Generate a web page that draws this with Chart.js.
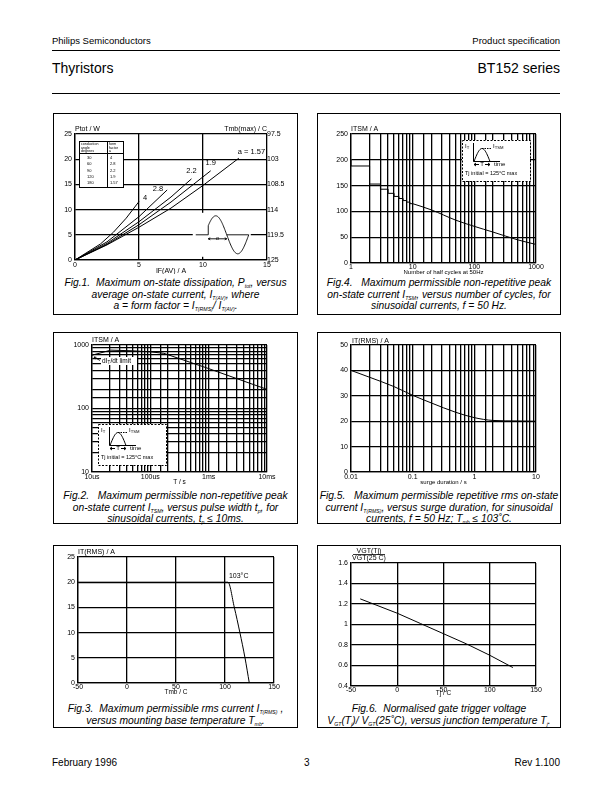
<!DOCTYPE html>
<html>
<head>
<meta charset="utf-8">
<script src="https://cdn.jsdelivr.net/npm/chart.js@4.4.1/dist/chart.umd.min.js"></script>
<style>
  body { margin: 0; background: #fff; }
  #page { position: relative; width: 612px; height: 792px; font-family: "Liberation Sans", Arial, sans-serif; color: #000; overflow: hidden; }
  .t { position: absolute; white-space: nowrap; line-height: 1; transform: translateY(-50%); }
  .hr { position: absolute; left: 52px; width: 508px; height: 0; border-top: 1px solid #000; }
  .box { position: absolute; border: 1px solid #000; box-sizing: border-box; }
  canvas { position: absolute; }
  .cap { position: absolute; font-style: italic; font-size: 10.3px; line-height: 11.7px; text-align: center; white-space: nowrap; }
  .cap sub { font-size: 5.2px; vertical-align: -1.5px; line-height: 0; }
</style>
</head>
<body>
<div id="page">
  <div class="t" style="left:52px;top:41px;font-size:9.5px">Philips Semiconductors</div>
  <div class="t" style="right:52px;top:41px;font-size:9.5px">Product specification</div>
  <div class="hr" style="top:50px"></div>
  <div class="t" style="left:52px;top:68px;font-size:14px">Thyristors</div>
  <div class="t" style="right:52px;top:68px;font-size:14px">BT152 series</div>
  <div class="hr" style="top:93px"></div>

  <div class="box" style="left:53px;top:113px;width:245px;height:202px"></div>
  <div class="box" style="left:317px;top:113px;width:244px;height:202px"></div>
  <div class="box" style="left:53px;top:332px;width:245px;height:192px"></div>
  <div class="box" style="left:317px;top:332px;width:244px;height:192px"></div>
  <div class="box" style="left:53px;top:545px;width:245px;height:183px"></div>
  <div class="box" style="left:317px;top:545px;width:244px;height:183px"></div>

  <canvas id="fig1"></canvas>
  <canvas id="fig4"></canvas>
  <canvas id="fig2"></canvas>
  <canvas id="fig5"></canvas>
  <canvas id="fig3"></canvas>
  <canvas id="fig6"></canvas>

  <div class="cap" style="left:53px;width:245px;top:277px">Fig.1.&nbsp; Maximum on-state dissipation, P<sub>tot</sub>, versus<br>average on-state current, I<sub>T(AV)</sub>, where<br>a = form factor = I<sub>T(RMS)</sub>/ I<sub>T(AV)</sub>.</div>
  <div class="cap" style="left:317px;width:244px;top:277px">Fig.4.&nbsp;&nbsp; Maximum permissible non-repetitive peak<br>on-state current I<sub>TSM</sub>, versus number of cycles, for<br>sinusoidal currents, f = 50 Hz.</div>
  <div class="cap" style="left:53px;width:245px;top:490px">Fig.2.&nbsp;&nbsp; Maximum permissible non-repetitive peak<br>on-state current I<sub>TSM</sub>, versus pulse width t<sub>p</sub>, for<br>sinusoidal currents, t<sub>p</sub> ≤ 10ms.</div>
  <div class="cap" style="left:317px;width:244px;top:490px">Fig.5.&nbsp;&nbsp; Maximum permissible repetitive rms on-state<br>current I<sub>T(RMS)</sub>, versus surge duration, for sinusoidal<br>currents, f = 50 Hz; T<sub>mb</sub> ≤ 103˚C.</div>
  <div class="cap" style="left:53px;width:245px;top:703px">Fig.3.&nbsp; Maximum permissible rms current I<sub>T(RMS)</sub> ,<br>versus mounting base temperature T<sub>mb</sub>.</div>
  <div class="cap" style="left:317px;width:244px;top:703px">Fig.6.&nbsp; Normalised gate trigger voltage<br>V<sub>GT</sub>(T<sub>j</sub>)/ V<sub>GT</sub>(25˚C), versus junction temperature T<sub>j</sub>.</div>

  <div class="t" style="left:52px;top:763px;font-size:10px">February 1996</div>
  <div class="t" style="left:304px;top:763px;font-size:10px">3</div>
  <div class="t" style="right:52px;top:763px;font-size:10px">Rev 1.100</div>
</div>

<script>
// Fig.1 - Ptot vs IF(AV), one curve per form factor
const conductionAngles = [30, 60, 90, 120, 180];
const formFactors = ['4', '2.8', '2.2', '1.9', '1.57'];
const ifavA4 = [0, 2, 3, 4, 5];
const ptotA4 = [0, 3.2, 5.5, 8.3, 11.6];
const ifavA28 = [0, 2.5, 5, 7.2];
const ptotA28 = [0, 3.6, 8.6, 13.9];
const ifavA22 = [0, 2.5, 5, 7.5, 9.1];
const ptotA22 = [0, 3.3, 7.6, 12.5, 16.1];
const ifavA19 = [0, 2.5, 5, 7.5, 10.6];
const ptotA19 = [0, 3.1, 7.0, 11.5, 17.7];
const ifavA157 = [0, 2.5, 5, 7.5, 10, 12.8];
const ptotA157 = [0, 3.0, 6.5, 10.3, 14.8, 20.2];
const tmbMaxTicks = [97.5, 103, 108.5, 114, 119.5, 125];

// Fig.4 - ITSM vs number of half cycles
const halfCycles = [1, 2, 3, 4, 5, 6, 7, 8, 9, 10, 20, 50, 100, 200, 500, 1000];
const itsmCycles = [200, 188, 153, 143, 135, 129, 125, 121, 118, 115, 103, 83, 71, 60, 45, 36];

// Fig.2 - ITSM vs pulse width
const pulseWidth = [1e-5, 2.1e-5, 5e-5, 1e-4, 1.7e-4, 1e-3, 1e-2];
const itsmPulse = [690, 830, 810, 780, 740, 425, 200];
const pulseTickLabels = { '-5': '10us', '-4': '100us', '-3': '1ms', '-2': '10ms' };

// Fig.5 - IT(RMS) vs surge duration
const surgeDuration = [0.01, 0.02, 0.05, 0.1, 0.2, 0.5, 1, 2, 5, 10];
const irmsSurge = [40, 37.3, 33.6, 30.2, 27.2, 23.5, 21.4, 20.3, 20.1, 20];

// Fig.3 - IT(RMS) vs Tmb
const tmb = [-50, 103, 109.5, 115.2, 120.4, 124.8];
const irmsTmb = [20, 20, 15, 10, 5, 0];

// Fig.6 - VGT(Tj)/VGT(25C) vs Tj
const tj = [-40, 0, 25, 50, 75, 100, 125];
const vgtRatio = [1.25, 1.11, 1.01, 0.91, 0.81, 0.70, 0.58];

const FAM = '"Liberation Sans", Arial, sans-serif';
Chart.defaults.font.family = FAM;
Chart.defaults.font.size = 7;
Chart.defaults.color = '#000';
Chart.defaults.animation = false;
Chart.defaults.plugins.legend.display = false;
Chart.defaults.plugins.tooltip.enabled = false;
Chart.defaults.elements.point.radius = 0;

const pts = (xs, ys) => xs.map((x, i) => ({ x, y: ys[i] }));
const line = (data, extra) => Object.assign({ data, showLine: true, borderColor: '#000', borderWidth: 1, pointRadius: 0, fill: false }, extra || {});
const isDecade = v => Math.abs(Math.log10(v) - Math.round(Math.log10(v))) < 1e-6;

function axis(opts) {
  return Object.assign({
    grid: { color: '#000', lineWidth: 1.3, drawTicks: false },
    border: { color: '#000', width: 1.3 },
  }, opts, {
    ticks: Object.assign({ padding: 2, autoSkip: false, maxRotation: 0 }, opts.ticks || {})
  });
}

function subText(ctx, base, sub, x, y, size) {
  ctx.font = size + 'px ' + FAM;
  ctx.fillText(base, x, y);
  const w = ctx.measureText(base).width;
  ctx.font = (size * 0.7) + 'px ' + FAM;
  ctx.fillText(sub, x + w, y + size * 0.3);
}

function axisTitles(ctx, area, t) {
  ctx.save();
  ctx.fillStyle = '#000';
  ctx.textBaseline = 'middle';
  ctx.font = '7px ' + FAM;
  if (t.y) { ctx.textAlign = 'left'; ctx.fillText(t.y, area.left + (t.yx || 0), area.top - (t.yDy || 5)); }
  if (t.x) { ctx.textAlign = 'center'; ctx.font = (t.xSize || 7) + 'px ' + FAM; ctx.fillText(t.x, (area.left + area.right) / 2, area.bottom + (t.xDy || 11)); }
  ctx.restore();
}

function drawPulseInset(ctx, ox, oy) {
  const w = 68, h = 41;
  ctx.save();
  ctx.fillStyle = '#fff';
  ctx.fillRect(ox, oy, w, h);
  ctx.strokeStyle = '#000';
  ctx.lineWidth = 1;
  ctx.setLineDash([2, 1.5]);
  ctx.strokeRect(ox + 0.5, oy + 0.5, w, h);
  ctx.setLineDash([]);
  ctx.beginPath();
  ctx.moveTo(ox + 11.5, oy + 3);
  ctx.lineTo(ox + 11.5, oy + 21.5);
  ctx.lineTo(ox + 38, oy + 21.5);
  ctx.stroke();
  ctx.beginPath();
  for (let k = 0; k <= 24; k++) {
    const f = k / 24, px = ox + 12 + f * 16, py = oy + 21.5 - 13 * Math.sin(Math.PI * f);
    k ? ctx.lineTo(px, py) : ctx.moveTo(px, py);
  }
  ctx.stroke();
  ctx.setLineDash([1.5, 1]);
  ctx.beginPath(); ctx.moveTo(ox + 20, oy + 8.5); ctx.lineTo(ox + 30, oy + 8.5); ctx.stroke();
  ctx.setLineDash([]);
  // T arrow
  ctx.beginPath();
  ctx.moveTo(ox + 12, oy + 24.5); ctx.lineTo(ox + 17, oy + 24.5);
  ctx.moveTo(ox + 23, oy + 24.5); ctx.lineTo(ox + 28, oy + 24.5);
  ctx.moveTo(ox + 14, oy + 23); ctx.lineTo(ox + 12, oy + 24.5); ctx.lineTo(ox + 14, oy + 26);
  ctx.moveTo(ox + 26, oy + 23); ctx.lineTo(ox + 28, oy + 24.5); ctx.lineTo(ox + 26, oy + 26);
  ctx.stroke();
  ctx.fillStyle = '#000';
  ctx.textBaseline = 'middle';
  ctx.textAlign = 'center';
  ctx.font = '6px ' + FAM;
  ctx.fillText('T', ox + 20, oy + 24.5);
  ctx.textAlign = 'left';
  subText(ctx, 'I', 'T', ox + 3, oy + 6, 6);
  subText(ctx, 'I', 'TSM', ox + 31, oy + 6, 6);
  ctx.font = '6px ' + FAM;
  ctx.fillText('time', ox + 32, oy + 24.5);
  ctx.font = '5.5px ' + FAM;
  ctx.fillText('Tj initial = 125°C max', ox + 3, oy + 33);
  ctx.restore();
}

function makeChart(id, cv, plot, datasets, scales, draw) {
  const el = document.getElementById(id);
  el.width = cv.w; el.height = cv.h;
  el.style.left = cv.x + 'px'; el.style.top = cv.y + 'px';
  el.style.width = cv.w + 'px'; el.style.height = cv.h + 'px';
  const rightW = cv.x + cv.w - plot.r;
  scales.x.afterFit = s => { s.height = cv.y + cv.h - plot.b; };
  scales.y.afterFit = s => { s.width = plot.l - cv.x; };
  if (scales.y2) scales.y2.afterFit = s => { s.width = rightW; };
  return new Chart(el, {
    type: 'scatter',
    data: { datasets },
    options: {
      responsive: false,
      devicePixelRatio: 1,
      layout: { padding: { top: plot.t - cv.y, right: scales.y2 ? 0 : rightW, left: 0, bottom: 0 } },
      scales
    },
    plugins: [{ id: 'decor', afterDraw: draw }]
  });
}

// ---------- Fig.1 ----------
const fig1Curves = [[ifavA4, ptotA4], [ifavA28, ptotA28], [ifavA22, ptotA22], [ifavA19, ptotA19], [ifavA157, ptotA157]];
// label offsets relative to the curve end (style only)
const fig1LabelPos = [[4, -4, 'left'], [-4, -1, 'right'], [0, -8, 'center'], [0, -8, 'center'], [-1, -6, 'left']];
makeChart('fig1', { x: 54, y: 118, w: 242, h: 156 }, { l: 75, t: 134, r: 267, b: 260 },
  fig1Curves.map(c => line(pts(c[0], c[1]))),
  {
    x: axis({ type: 'linear', min: 0, max: 15, ticks: { stepSize: 5, padding: 1 } }),
    y: axis({ min: 0, max: 25, ticks: { stepSize: 5, padding: 3 } }),
    y2: { position: 'right', min: 97.5, max: 125, reverse: true, grid: { display: false, drawTicks: false }, border: { display: false },
      afterBuildTicks: s => { s.ticks = tmbMaxTicks.map(v => ({ value: v })); },
      ticks: { padding: 0, autoSkip: false } }
  },
  chart => {
    const { ctx, chartArea: a, scales: { x, y } } = chart;
    ctx.save();
    ctx.fillStyle = '#000';
    ctx.textBaseline = 'middle';
    ctx.font = '7.5px ' + FAM;
    fig1Curves.forEach((c, i) => {
      const n = c[0].length - 1;
      const px = x.getPixelForValue(c[0][n]), py = y.getPixelForValue(c[1][n]);
      const p = fig1LabelPos[i];
      ctx.textAlign = p[2];
      ctx.fillText(i === 4 ? 'a = ' + formFactors[i] : formFactors[i], px + p[0], py + p[1]);
    });
    // form factor table
    const tx = a.left + 4, ty = a.top + 7, tw = 44, th = 46;
    ctx.fillStyle = '#fff'; ctx.fillRect(tx, ty, tw, th);
    ctx.strokeStyle = '#000'; ctx.lineWidth = 1;
    ctx.strokeRect(tx + 0.5, ty + 0.5, tw, th);
    ctx.beginPath();
    ctx.moveTo(tx, ty + 12.5); ctx.lineTo(tx + tw, ty + 12.5);
    ctx.moveTo(tx + 28.5, ty); ctx.lineTo(tx + 28.5, ty + th);
    ctx.stroke();
    ctx.fillStyle = '#000'; ctx.textAlign = 'left'; ctx.font = '3.6px ' + FAM;
    ['conduction', 'angle', 'degrees'].forEach((s, i) => ctx.fillText(s, tx + 2, ty + 3 + i * 3.6));
    ['form', 'factor', 'a'].forEach((s, i) => ctx.fillText(s, tx + 30, ty + 3 + i * 3.6));
    ctx.font = '4px ' + FAM;
    conductionAngles.forEach((v, i) => {
      ctx.fillText(String(v), tx + 8, ty + 17 + i * 6.3);
      ctx.fillText(formFactors[i], tx + 31, ty + 17 + i * 6.3);
    });
    // phase controlled sine icon
    const bx = x.getPixelForValue(9.2), base = y.getPixelForValue(5);
    ctx.fillStyle = '#fff'; ctx.fillRect(bx, base - 22, 58, 44);
    const z0 = bx + 12, P = 44, A = 19, fire = z0 + 3.5;
    ctx.strokeStyle = '#000'; ctx.lineWidth = 0.9;
    ctx.beginPath();
    ctx.moveTo(bx + 3, base); ctx.lineTo(fire, base);
    ctx.lineTo(fire, base - A * Math.sin(2 * Math.PI * (fire - z0) / P));
    for (let px = fire; px <= z0 + P; px += 0.5) ctx.lineTo(px, base - A * Math.sin(2 * Math.PI * (px - z0) / P));
    ctx.moveTo(z0 + P / 2, base); ctx.lineTo(z0 + P, base);
    ctx.stroke();
    ctx.beginPath();
    ctx.moveTo(fire, base + 4); ctx.lineTo(z0 + P / 2, base + 4);
    ctx.moveTo(fire + 2, base + 3); ctx.lineTo(fire, base + 4); ctx.lineTo(fire + 2, base + 5);
    ctx.moveTo(z0 + P / 2 - 2, base + 3); ctx.lineTo(z0 + P / 2, base + 4); ctx.lineTo(z0 + P / 2 - 2, base + 5);
    ctx.stroke();
    ctx.fillStyle = '#000'; ctx.textAlign = 'center'; ctx.font = '5px ' + FAM;
    ctx.fillText('α', (fire + z0 + P / 2) / 2, base + 3.5);
    ctx.restore();
    axisTitles(ctx, a, { y: 'Ptot / W', x: 'IF(AV) / A', xDy: 11 });
    ctx.save();
    ctx.font = '7px ' + FAM; ctx.textAlign = 'right'; ctx.textBaseline = 'middle';
    ctx.fillText('Tmb(max) / C', a.right, a.top - 5);
    ctx.restore();
  });

// ---------- Fig.4 ----------
makeChart('fig4', { x: 318, y: 118, w: 241, h: 158 }, { l: 351, t: 134, r: 536, b: 263 },
  [
    line(pts(halfCycles.slice(0, 10), itsmCycles.slice(0, 10)), { stepped: 'after' }),
    line(pts(halfCycles.slice(9), itsmCycles.slice(9)), { tension: 0.35 })
  ],
  {
    x: axis({ type: 'logarithmic', min: 1, max: 1000, ticks: { padding: 0, callback: v => isDecade(v) ? String(v) : '' } }),
    y: axis({ min: 0, max: 250, ticks: { stepSize: 50, padding: 3 } })
  },
  chart => {
    const { ctx, chartArea: a } = chart;
    drawPulseInset(ctx, a.right - 74, a.top + 6);
    axisTitles(ctx, a, { y: 'ITSM / A', x: 'Number of half cycles at 50Hz', xSize: 6, xDy: 9.5 });
  });

// ---------- Fig.2 ----------
makeChart('fig2', { x: 54, y: 334, w: 242, h: 152 }, { l: 92, t: 345, r: 267, b: 472 },
  [line(pts(pulseWidth, itsmPulse))],
  {
    x: axis({ type: 'logarithmic', min: 1e-5, max: 1e-2,
      ticks: { padding: 1, callback: v => isDecade(v) ? pulseTickLabels[String(Math.round(Math.log10(v)))] : '' } }),
    y: axis({ type: 'logarithmic', min: 10, max: 1000,
      ticks: { padding: 3, callback: v => isDecade(v) ? String(v) : '' } })
  },
  chart => {
    const { ctx, chartArea: a } = chart;
    ctx.save();
    ctx.font = '6.5px ' + FAM;
    ctx.textBaseline = 'middle';
    ctx.fillStyle = '#fff';
    ctx.fillRect(a.left + 9, a.top + 12, 36, 8);
    ctx.strokeStyle = '#000'; ctx.lineWidth = 0.8;
    ctx.beginPath();
    ctx.moveTo(a.left + 2, a.top + 12); ctx.lineTo(a.left + 8, a.top + 15.5);
    ctx.moveTo(a.left + 2, a.top + 12); ctx.lineTo(a.left + 4.5, a.top + 12.3);
    ctx.moveTo(a.left + 2, a.top + 12); ctx.lineTo(a.left + 3.3, a.top + 14.2);
    ctx.stroke();
    ctx.fillStyle = '#000'; ctx.textAlign = 'left';
    subText(ctx, 'dI', 'T', a.left + 10, a.top + 16, 6.5);
    ctx.font = '6.5px ' + FAM;
    ctx.fillText('/dt limit', a.left + 10 + ctx.measureText('dI').width + 3, a.top + 16);
    ctx.restore();
    drawPulseInset(ctx, a.left + 6, a.top + 79);
    axisTitles(ctx, a, { y: 'ITSM / A', x: 'T / s', xSize: 6.5, xDy: 10 });
  });

// ---------- Fig.5 ----------
makeChart('fig5', { x: 318, y: 334, w: 241, h: 152 }, { l: 351, t: 345, r: 536, b: 472 },
  [line(pts(surgeDuration, irmsSurge), { cubicInterpolationMode: 'monotone' })],
  {
    x: axis({ type: 'logarithmic', min: 0.01, max: 10, ticks: { padding: 1, callback: v => isDecade(v) ? String(v) : '' } }),
    y: axis({ min: 0, max: 50, ticks: { stepSize: 10, padding: 3 } })
  },
  chart => axisTitles(chart.ctx, chart.chartArea, { y: 'IT(RMS) / A', yx: 1, yDy: 4, x: 'surge duration / s', xSize: 6, xDy: 10.5 }));

// ---------- Fig.3 ----------
makeChart('fig3', { x: 54, y: 547, w: 242, h: 150 }, { l: 78, t: 557, r: 274, b: 683 },
  [line(pts(tmb, irmsTmb), { cubicInterpolationMode: 'monotone' })],
  {
    x: axis({ type: 'linear', min: -50, max: 150, ticks: { stepSize: 50, padding: 0 } }),
    y: axis({ min: 0, max: 25, ticks: { stepSize: 5, padding: 3 } })
  },
  chart => {
    const { ctx, chartArea: a, scales: { x, y } } = chart;
    ctx.save();
    ctx.font = '7px ' + FAM; ctx.textBaseline = 'middle'; ctx.textAlign = 'left';
    ctx.fillText('103°C', x.getPixelForValue(tmb[1]) + 1, y.getPixelForValue(irmsTmb[1]) - 6);
    ctx.restore();
    axisTitles(ctx, a, { y: 'IT(RMS) / A', yDy: 5, x: 'Tmb / C', xSize: 6.5, xDy: 9.5 });
  });

// ---------- Fig.6 ----------
makeChart('fig6', { x: 318, y: 547, w: 241, h: 150 }, { l: 351, t: 563, r: 536, b: 686 },
  [line(pts(tj, vgtRatio))],
  {
    x: axis({ type: 'linear', min: -50, max: 150, ticks: { stepSize: 50, padding: 0 } }),
    y: axis({ min: 0.4, max: 1.6, ticks: { stepSize: 0.2, padding: 3, callback: v => String(+v.toFixed(1)) } })
  },
  chart => {
    const { ctx, chartArea: a } = chart;
    ctx.save();
    ctx.font = '7px ' + FAM; ctx.textBaseline = 'middle'; ctx.textAlign = 'center';
    const cx = a.left + 18;
    ctx.fillText('VGT(Tj)', cx, a.top - 12);
    ctx.fillText('VGT(25 C)', cx, a.top - 4.5);
    ctx.strokeStyle = '#000'; ctx.lineWidth = 0.8;
    ctx.beginPath(); ctx.moveTo(cx - 16, a.top - 8.5); ctx.lineTo(cx + 16, a.top - 8.5); ctx.stroke();
    ctx.restore();
    axisTitles(ctx, a, { x: 'Tj / C', xSize: 6.5, xDy: 7.5 });
  });
</script>
</body>
</html>
